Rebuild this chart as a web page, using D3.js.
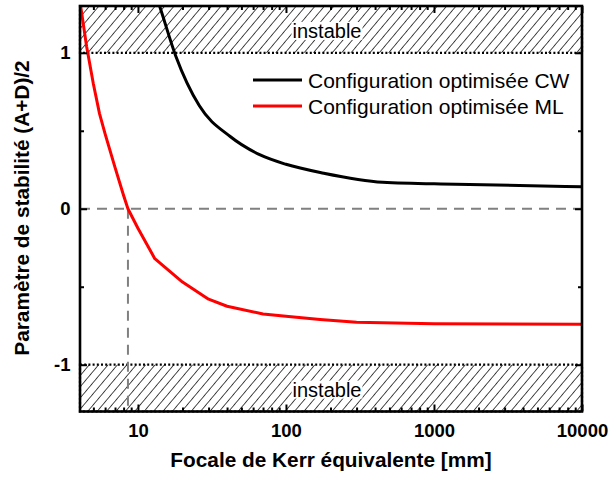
<!DOCTYPE html>
<html>
<head>
<meta charset="utf-8">
<script src="https://cdn.jsdelivr.net/npm/d3@7"></script>
<style>
  html, body { margin: 0; padding: 0; background: #fff; }
  svg { display: block; font-family: "Liberation Sans", Arial, sans-serif; }
</style>
</head>
<body>
<svg id="chart" width="612" height="479"></svg>
<script>
// Equivalent Kerr focal length [mm] and stability parameter (A+D)/2
const cwFocal  = [13, 14, 18, 26, 42, 67, 100, 180, 450, 1400, 10000];
const cwStab   = [1.39, 1.30, 0.98, 0.66, 0.463, 0.345, 0.285, 0.228, 0.17, 0.157, 0.141];
const mlFocal  = [4.0, 4.5, 5, 5.5, 6, 7, 8, 8.56, 10, 13, 20, 30, 40, 70, 100, 170, 300, 1000, 10000];
const mlStab   = [1.37, 1.04, 0.80, 0.61, 0.48, 0.265, 0.085, 0.0, -0.125, -0.32, -0.47, -0.58, -0.625, -0.675, -0.69, -0.71, -0.727, -0.737, -0.74];

const seriesNames  = ["Configuration optimisée CW", "Configuration optimisée ML"];
const seriesColors = ["#000000", "#ff0000"];

const xMajorTicks = [10, 100, 1000, 10000];
const xMinorTicks = [5, 6, 7, 8, 9, 20, 30, 40, 50, 60, 70, 80, 90,
                     200, 300, 400, 500, 600, 700, 800, 900,
                     2000, 3000, 4000, 5000, 6000, 7000, 8000, 9000];
const yMajorTicks = [-1, 0, 1];
const yMinorTicks = [-0.5, 0.5];

const zeroCrossing = 8.56;          // ML curve reaches (A+D)/2 = 0 here
const stableLimits = [-1, 1];       // |(A+D)/2| > 1 is unstable
const unstableLabel = "instable";
const xTitle = "Focale de Kerr équivalente [mm]";
const yTitle = "Paramètre de stabilité (A+D)/2";

const svg = d3.select("#chart");
const pLeft = 80, pRight = 582, pTop = 6, pBottom = 411.5;

const x = d3.scaleLog().domain([4.06, 10000]).range([pLeft, pRight]);
const y = d3.scaleLinear().domain([-1.3, 1.3]).range([pBottom, pTop]);

const defs = svg.append("defs");
defs.append("clipPath").attr("id", "plotClip")
  .append("rect").attr("x", pLeft).attr("y", pTop)
  .attr("width", pRight - pLeft).attr("height", pBottom - pTop);

const hatch = defs.append("pattern")
  .attr("id", "hatch").attr("patternUnits", "userSpaceOnUse")
  .attr("width", 7.2).attr("height", 7.2)
  .attr("patternTransform", "rotate(40)");
hatch.append("line").attr("x1", 0).attr("y1", 0).attr("x2", 0).attr("y2", 7.2)
  .attr("stroke", "#000").attr("stroke-width", 1.4);

// Unstable bands above +1 and below -1
const bands = [
  { y0: stableLimits[1], y1: y.domain()[1] },
  { y0: y.domain()[0], y1: stableLimits[0] }
];
const bandG = svg.append("g");
bands.forEach(b => {
  const yTop = y(b.y1), yBot = y(b.y0);
  bandG.append("rect")
    .attr("x", pLeft).attr("y", yTop)
    .attr("width", pRight - pLeft).attr("height", yBot - yTop)
    .attr("fill", "url(#hatch)")
    .attr("stroke", "#000").attr("stroke-width", 2.2)
    .attr("stroke-dasharray", "2,2.2");
  const cx = (pLeft + pRight) / 2 - 4;
  const cy = (yTop + yBot) / 2 + 1.5;
  const t = bandG.append("text")
    .attr("x", cx).attr("y", cy)
    .attr("text-anchor", "middle").attr("dominant-baseline", "central")
    .attr("font-size", 20).attr("fill", "#000")
    .text(unstableLabel);
  const bb = t.node().getBBox();
  bandG.insert("rect", () => t.node())
    .attr("x", bb.x - 1).attr("y", bb.y + 2)
    .attr("width", bb.width + 2).attr("height", bb.height - 4)
    .attr("fill", "#fff");
});

// Grey dashed guides at (A+D)/2 = 0 and at the ML zero crossing
svg.append("line")
  .attr("x1", pLeft).attr("x2", pRight).attr("y1", y(0)).attr("y2", y(0))
  .attr("stroke", "#808080").attr("stroke-width", 2).attr("stroke-dasharray", "10,7");
svg.append("line")
  .attr("x1", x(zeroCrossing)).attr("x2", x(zeroCrossing))
  .attr("y1", y(0)).attr("y2", pBottom)
  .attr("stroke", "#808080").attr("stroke-width", 2).attr("stroke-dasharray", "10,7");

// Curves
const curveG = svg.append("g").attr("clip-path", "url(#plotClip)");
const series = [
  { fx: cwFocal, sy: cwStab, curve: d3.curveMonotoneX },
  { fx: mlFocal, sy: mlStab, curve: d3.curveLinear }
];
series.forEach((s, i) => {
  const line = d3.line().x(d => x(d[0])).y(d => y(d[1])).curve(s.curve);
  curveG.append("path")
    .datum(s.fx.map((f, k) => [f, s.sy[k]]))
    .attr("fill", "none").attr("stroke", seriesColors[i])
    .attr("stroke-width", 3).attr("stroke-linejoin", "round")
    .attr("d", line);
});

// Legend
const legend = svg.append("g");
seriesNames.forEach((name, i) => {
  const ly = 80 + i * 26;
  legend.append("line").attr("x1", 253).attr("x2", 302).attr("y1", ly).attr("y2", ly)
    .attr("stroke", seriesColors[i]).attr("stroke-width", 3);
  legend.append("text").attr("x", 308).attr("y", ly + 7.5)
    .attr("font-size", 21).attr("fill", "#000").text(name);
});

// Axes with inward ticks on all four sides
const plainInt = d => String(d);   // ASCII hyphen for negatives
function styleAxis(g) {
  g.select(".domain").remove();
  g.selectAll(".tick line").attr("stroke", "#000").attr("stroke-width", 2);
  g.selectAll(".tick text").attr("font-size", 18.5).attr("font-weight", "bold")
    .attr("font-family", "Liberation Sans, Arial, sans-serif").attr("fill", "#000");
}
svg.append("g").attr("transform", `translate(0,${pBottom})`)
  .call(d3.axisBottom(x).tickValues(xMajorTicks).tickFormat(plainInt).tickSize(-7).tickPadding(12.5))
  .call(styleAxis);
svg.append("g").attr("transform", `translate(0,${pBottom})`)
  .call(d3.axisBottom(x).tickValues(xMinorTicks).tickFormat("").tickSize(-4))
  .call(styleAxis);
svg.append("g").attr("transform", `translate(0,${pTop})`)
  .call(d3.axisTop(x).tickValues(xMajorTicks).tickFormat("").tickSize(-7))
  .call(styleAxis);
svg.append("g").attr("transform", `translate(0,${pTop})`)
  .call(d3.axisTop(x).tickValues(xMinorTicks).tickFormat("").tickSize(-4))
  .call(styleAxis);
svg.append("g").attr("transform", `translate(${pLeft},0)`)
  .call(d3.axisLeft(y).tickValues(yMajorTicks).tickFormat(plainInt).tickSize(-7).tickPadding(9.5))
  .call(styleAxis);
svg.append("g").attr("transform", `translate(${pLeft},0)`)
  .call(d3.axisLeft(y).tickValues(yMinorTicks).tickFormat("").tickSize(-4))
  .call(styleAxis);
svg.append("g").attr("transform", `translate(${pRight},0)`)
  .call(d3.axisRight(y).tickValues(yMajorTicks).tickFormat("").tickSize(-7))
  .call(styleAxis);
svg.append("g").attr("transform", `translate(${pRight},0)`)
  .call(d3.axisRight(y).tickValues(yMinorTicks).tickFormat("").tickSize(-4))
  .call(styleAxis);

// Frame
svg.append("rect").attr("x", pLeft).attr("y", pTop)
  .attr("width", pRight - pLeft).attr("height", pBottom - pTop)
  .attr("fill", "none").attr("stroke", "#000").attr("stroke-width", 2.6);

// Axis titles
svg.append("text").attr("x", 331).attr("y", 467)
  .attr("text-anchor", "middle").attr("font-size", 20.8).attr("font-weight", "bold")
  .text(xTitle);
svg.append("text").attr("transform", "translate(29,208) rotate(-90)")
  .attr("text-anchor", "middle").attr("font-size", 20.8).attr("font-weight", "bold")
  .text(yTitle);
</script>
</body>
</html>
